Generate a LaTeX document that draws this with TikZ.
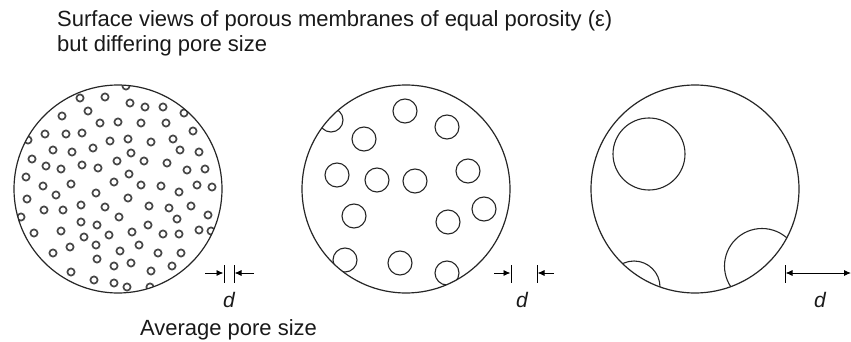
\documentclass[tikz,border=0pt]{standalone}
\usepackage{fontspec}
\setmainfont{Liberation Sans}
\usetikzlibrary{arrows.meta}
\begin{document}
\begin{tikzpicture}[x=1pt,y=-1pt,
  membrane/.style={line width=1.2pt, draw=black!85},
  smallpore/.style={line width=1.7pt, draw=black!72},
  pore/.style={line width=1.1pt, draw=black!85},
  dimline/.style={line width=0.9pt, -{Latex[length=7pt,width=6pt]}},
  dimboth/.style={line width=0.9pt, {Latex[length=7pt,width=6pt]}-{Latex[length=7pt,width=6pt]}},
  dimbar/.style={line width=1pt},
  lbl/.style={font=\fontsize{22}{26}\selectfont, inner sep=0pt, text=black!90},
  dlbl/.style={font=\itshape\fontsize{21}{25}\selectfont, inner sep=0pt, text=black!90}]
\useasboundingbox (0,0) rectangle (851,342);

% title
\node[lbl, anchor=base west] (t1) at (57,27) {Surface views of porous membranes of equal porosity (ε)};
\node[lbl, anchor=base west] (t2) at (57,52) {but differing pore size};

% membrane 1
\coordinate (m1) at (118,189);
\begin{scope}
  \clip (m1) circle [radius=104pt];
  \foreach \p in {(80,98),(105,97),(126,86),(130,103),(145,107),(163,107),(184,113),(62,116),(88,111),(100,123),(118,122),(141,123),(166,123),(193,131),(45,134),(66,134),(82,133),(28,140),(110,141),(128,139),(151,142),(173,139),(53,150),(72,152),(93,148),(131,153),(180,150),(199,152),(32,159),(46,166),(61,169),(82,165),(98,168),(117,161),(144,161),(167,163),(187,170),(205,169),(26,177),(43,186),(71,184),(129,174),(114,182),(141,185),(161,186),(179,192),(197,185),(212,187),(56,195),(96,193),(27,199),(128,198),(44,210),(63,210),(81,205),(105,207),(149,206),(169,208),(191,206),(21,217),(81,222),(97,225),(119,217),(177,219),(208,215),(34,233),(61,231),(84,237),(109,235),(132,232),(148,225),(163,234),(179,234),(199,230),(211,231),(70,247),(96,245),(120,251),(139,245),(53,253),(97,259),(114,266),(131,263),(158,253),(181,253),(71,272),(151,271),(172,266),(94,280),(114,283),(127,287),(150,287)}
    \draw[smallpore] \p circle [radius=3.6pt];
\end{scope}
\draw[membrane] (m1) circle [radius=104pt];

% membrane 2
\coordinate (m2) at (406,189);
\begin{scope}
  \clip (m2) circle [radius=104pt];
  \foreach \p in {(331,120),(405,111),(447,127),(364,139),(337,175),(377,180),(415,181),(468,171),(484,209),(354,216),(448,222),(345,260),(400,263),(447,273)}
    \draw[pore] \p circle [radius=12pt];
\end{scope}
\draw[membrane] (m2) circle [radius=104pt];

% membrane 3
\coordinate (m3) at (695,189);
\draw[pore] (649,154) circle [radius=36pt];
\begin{scope}
  \clip (m3) circle [radius=104pt];
  \draw[pore] (762,266) circle [radius=37.5pt];
  \draw[pore] (634,287) circle [radius=26pt];
\end{scope}
\draw[membrane] (m3) circle [radius=104pt];

% dimension 1
\coordinate (a1s) at (205,273); \coordinate (a1e) at (223.5,273);
\coordinate (b1s) at (254,273); \coordinate (b1e) at (234.5,273);
\coordinate (p1t) at (224,265); \coordinate (p1b) at (224,283);
\coordinate (q1t) at (234,265); \coordinate (q1b) at (234,283);
\draw[dimline] (a1s) -- (a1e);
\draw[dimline] (b1s) -- (b1e);
\draw[dimbar] (p1t) -- (p1b);
\draw[dimbar] (q1t) -- (q1b);
\node[dlbl] (d1) at (229,300) {d};
\node[lbl, anchor=base] (avg) at (228.5,335) {Average pore size};

% dimension 2
\coordinate (a2s) at (494,273); \coordinate (a2e) at (510.5,273);
\coordinate (b2s) at (554,273); \coordinate (b2e) at (537.5,273);
\coordinate (p2t) at (511,265); \coordinate (p2b) at (511,283);
\coordinate (q2t) at (537,265); \coordinate (q2b) at (537,283);
\draw[dimline] (a2s) -- (a2e);
\draw[dimline] (b2s) -- (b2e);
\draw[dimbar] (p2t) -- (p2b);
\draw[dimbar] (q2t) -- (q2b);
\node[dlbl] (d2) at (522,300) {d};

% dimension 3
\coordinate (a3s) at (785.5,273); \coordinate (a3e) at (851,273);
\coordinate (p3t) at (785,265); \coordinate (p3b) at (785,283);
\draw[dimboth] (a3s) -- (a3e);
\draw[dimbar] (p3t) -- (p3b);
\node[dlbl] (d3) at (820,300) {d};
\end{tikzpicture}
\end{document}
